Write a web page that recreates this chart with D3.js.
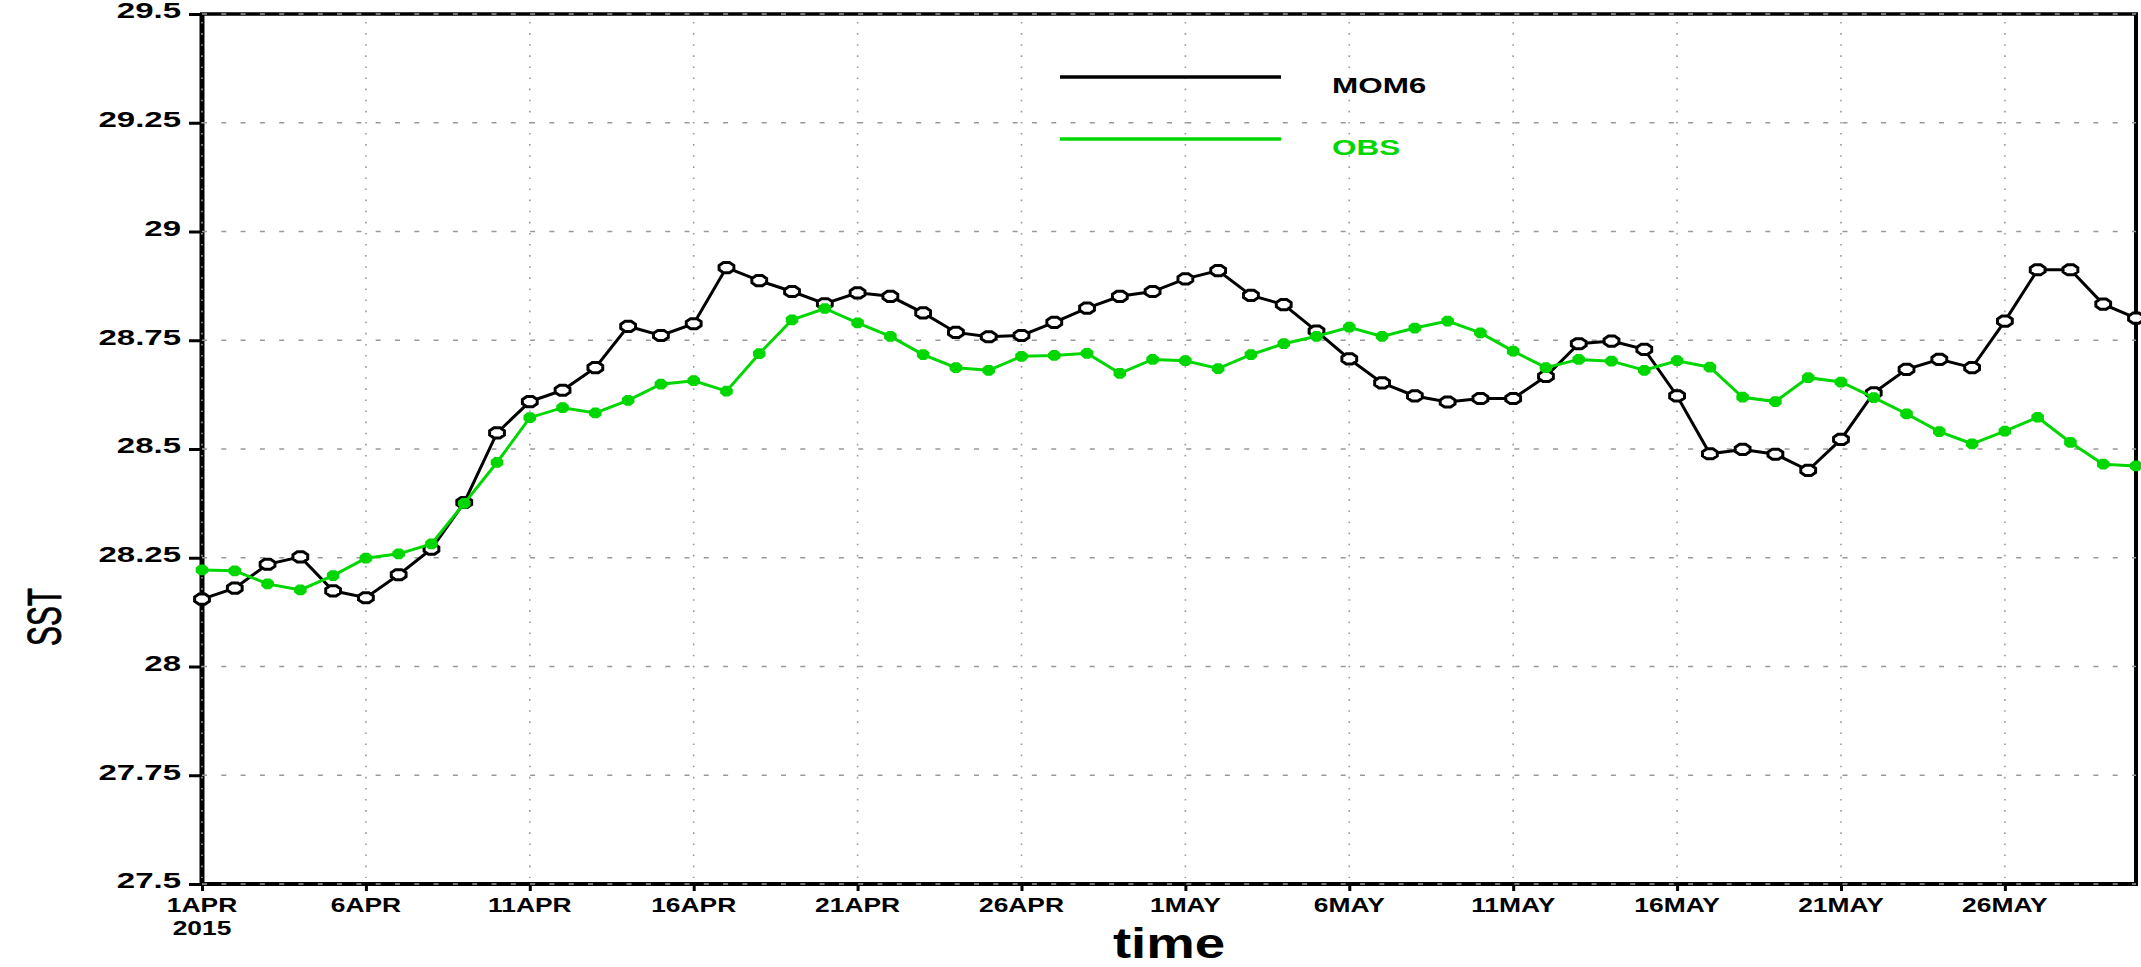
<!DOCTYPE html>
<html>
<head>
<meta charset="utf-8">
<script src="https://cdn.jsdelivr.net/npm/d3@7"></script>
<style>
  html, body { margin: 0; padding: 0; background: #fff; }
  svg { display: block; }
  text { font-family: "Liberation Sans", Arial, sans-serif; }
</style>
</head>
<body>
<svg id="chart" width="2141" height="967"></svg>
<script>
// ---------------- data ----------------
const startDate = Date.UTC(2015, 3, 1);
const endDate = Date.UTC(2015, 4, 31);
const days = d3.utcDay.range(new Date(startDate), new Date(endDate)); // 1 Apr .. 30 May

const mom6 = [
  28.155, 28.18, 28.235, 28.252, 28.174, 28.158, 28.211, 28.27, 28.377, 28.537,
  28.609, 28.635, 28.687, 28.782, 28.761, 28.788, 28.917, 28.887, 28.862, 28.834,
  28.859, 28.851, 28.813, 28.768, 28.758, 28.761, 28.791, 28.824, 28.851, 28.862,
  28.891, 28.91, 28.853, 28.832, 28.771, 28.707, 28.652, 28.622, 28.608, 28.616,
  28.616, 28.667, 28.742, 28.748, 28.729, 28.622, 28.489, 28.499, 28.488, 28.451,
  28.522, 28.629, 28.683, 28.706, 28.687, 28.794, 28.912, 28.912, 28.833, 28.801
];
const obs = [
  28.222, 28.22, 28.19, 28.176, 28.209, 28.249, 28.259, 28.282, 28.375, 28.469,
  28.572, 28.595, 28.583, 28.612, 28.649, 28.657, 28.633, 28.719, 28.797, 28.823,
  28.79, 28.759, 28.717, 28.687, 28.681, 28.713, 28.715, 28.72, 28.674, 28.706,
  28.703, 28.685, 28.717, 28.742, 28.759, 28.78, 28.759, 28.778, 28.794, 28.767,
  28.725, 28.687, 28.706, 28.702, 28.681, 28.703, 28.688, 28.619, 28.609, 28.664,
  28.654, 28.618, 28.581, 28.54, 28.512, 28.541, 28.573, 28.515, 28.465, 28.461
];
const seriesNames = ["MOM6", "OBS"];
const yTicks = [27.5, 27.75, 28, 28.25, 28.5, 28.75, 29, 29.25, 29.5];
const yTickLabels = ["27.5", "27.75", "28", "28.25", "28.5", "28.75", "29", "29.25", "29.5"];
const xTickLabels = ["1APR", "6APR", "11APR", "16APR", "21APR", "26APR", "1MAY", "6MAY", "11MAY", "16MAY", "21MAY", "26MAY"];
const xTickYear = "2015";
const yTitle = "SST";
const xTitle = "time";

// ---------------- layout ----------------
const L = 202, R = 2136, T = 14, B = 884;
const GREEN = "rgb(0,215,0)";
const svg = d3.select("#chart");

const x = d3.scaleUtc().domain([days[0], days[days.length - 1]]).range([L, R]);
const y = d3.scaleLinear().domain([27.5, 29.5]).range([B, T]);
const xTickDates = d3.range(0, days.length, 5).map(i => days[i]);

// frame
const frame = svg.append("g");
frame.append("line").attr("x1", L).attr("x2", L).attr("y1", T - 1).attr("y2", B + 2)
  .attr("stroke", "#000").attr("stroke-width", 5);
frame.append("line").attr("x1", R).attr("x2", R).attr("y1", T - 1).attr("y2", B + 2)
  .attr("stroke", "#000").attr("stroke-width", 4);
frame.append("line").attr("x1", L - 2).attr("x2", R + 2).attr("y1", B).attr("y2", B)
  .attr("stroke", "#000").attr("stroke-width", 4);
frame.append("line").attr("x1", L - 2).attr("x2", R + 2).attr("y1", T).attr("y2", T)
  .attr("stroke", "#000").attr("stroke-width", 3.5);

// ticks
const yAxis = d3.axisLeft(y).tickValues(yTicks).tickSize(13).tickFormat("");
const yg = svg.append("g").attr("transform", `translate(${L},0)`).call(yAxis);
yg.select(".domain").remove();
yg.selectAll(".tick line").attr("stroke", "#000").attr("stroke-width", 3);

const xAxis = d3.axisBottom(x).tickValues(xTickDates).tickSize(7).tickFormat("");
const xg = svg.append("g").attr("transform", `translate(0,${B})`).call(xAxis);
xg.select(".domain").remove();
xg.selectAll(".tick line").attr("stroke", "#000").attr("stroke-width", 3);

// grid (drawn over frame like the original)
const grid = svg.append("g");
grid.selectAll(".hg").data(yTicks).join("line")
  .attr("x1", L).attr("x2", R)
  .attr("y1", d => y(d)).attr("y2", d => y(d))
  .attr("stroke", "#999").attr("stroke-width", 1.3)
  .attr("stroke-dasharray", "5,14.3");
grid.selectAll(".vg").data(xTickDates).join("line")
  .attr("x1", d => x(d)).attr("x2", d => x(d))
  .attr("y1", T + 8).attr("y2", B - 6)
  .attr("stroke", "#999").attr("stroke-width", 1.6)
  .attr("stroke-dasharray", "1.6,9.5");

// y tick labels
svg.append("g").selectAll("text").data(yTicks).join("text")
  .attr("transform", d => `translate(181,${y(d) - 3}) scale(1.5,1)`)
  .attr("text-anchor", "end").attr("dominant-baseline", "central")
  .attr("font-size", 22).attr("font-weight", "bold")
  .text((d, i) => yTickLabels[i]);

// x tick labels
svg.append("g").selectAll("text").data(xTickDates).join("text")
  .attr("transform", d => `translate(${x(d)},912) scale(1.32,1)`)
  .attr("text-anchor", "middle")
  .attr("font-size", 20).attr("font-weight", "bold")
  .text((d, i) => xTickLabels[i]);
svg.append("text")
  .attr("transform", `translate(${x(days[0])},935) scale(1.32,1)`)
  .attr("text-anchor", "middle").attr("font-size", 20).attr("font-weight", "bold")
  .text(xTickYear);

// axis titles
svg.append("text")
  .attr("transform", "translate(44,617) rotate(-90) scale(0.62,1)")
  .attr("text-anchor", "middle").attr("dominant-baseline", "central")
  .attr("font-size", 48)
  .attr("stroke", "#000").attr("stroke-width", 0.8)
  .text(yTitle);
svg.append("text")
  .attr("transform", `translate(${(L + R) / 2},958) scale(1.3,1)`)
  .attr("text-anchor", "middle")
  .attr("font-size", 42).attr("font-weight", "bold")
  .text(xTitle);

// octagon marker path
function octagon(rx, ry) {
  const pts = d3.range(8).map(k => {
    const a = Math.PI / 8 + k * Math.PI / 4;
    return [rx * Math.cos(a), ry * Math.sin(a)];
  });
  return "M" + pts.map(p => p.join(",")).join("L") + "Z";
}

const line = d3.line().x((d, i) => x(days[i])).y(d => y(d));

// MOM6
const gM = svg.append("g");
gM.append("path").datum(mom6).attr("d", line)
  .attr("fill", "none").attr("stroke", "#000").attr("stroke-width", 3);
gM.selectAll("path.m").data(mom6).join("path").attr("class", "m")
  .attr("d", octagon(8, 5.5))
  .attr("transform", (d, i) => `translate(${x(days[i])},${y(d)})`)
  .attr("fill", "#fff").attr("stroke", "#000").attr("stroke-width", 3);

// OBS
const gO = svg.append("g");
gO.append("path").datum(obs).attr("d", line)
  .attr("fill", "none").attr("stroke", GREEN).attr("stroke-width", 3);
gO.selectAll("path.o").data(obs).join("path").attr("class", "o")
  .attr("d", octagon(6, 5))
  .attr("transform", (d, i) => `translate(${x(days[i])},${y(d)})`)
  .attr("fill", GREEN).attr("stroke", GREEN).attr("stroke-width", 1.5);

// legend
const legend = svg.append("g");
const legendY = [77, 139];
const legendColors = ["#000", GREEN];
seriesNames.forEach((name, i) => {
  legend.append("line").attr("x1", 1060).attr("x2", 1281)
    .attr("y1", legendY[i]).attr("y2", legendY[i])
    .attr("stroke", legendColors[i]).attr("stroke-width", 3.5);
  legend.append("text")
    .attr("transform", `translate(1332,${legendY[i] + 8}) scale(1.43,1)`)
    .attr("dominant-baseline", "central")
    .attr("font-size", 22).attr("font-weight", "bold")
    .attr("fill", legendColors[i])
    .text(name);
});
</script>
</body>
</html>
